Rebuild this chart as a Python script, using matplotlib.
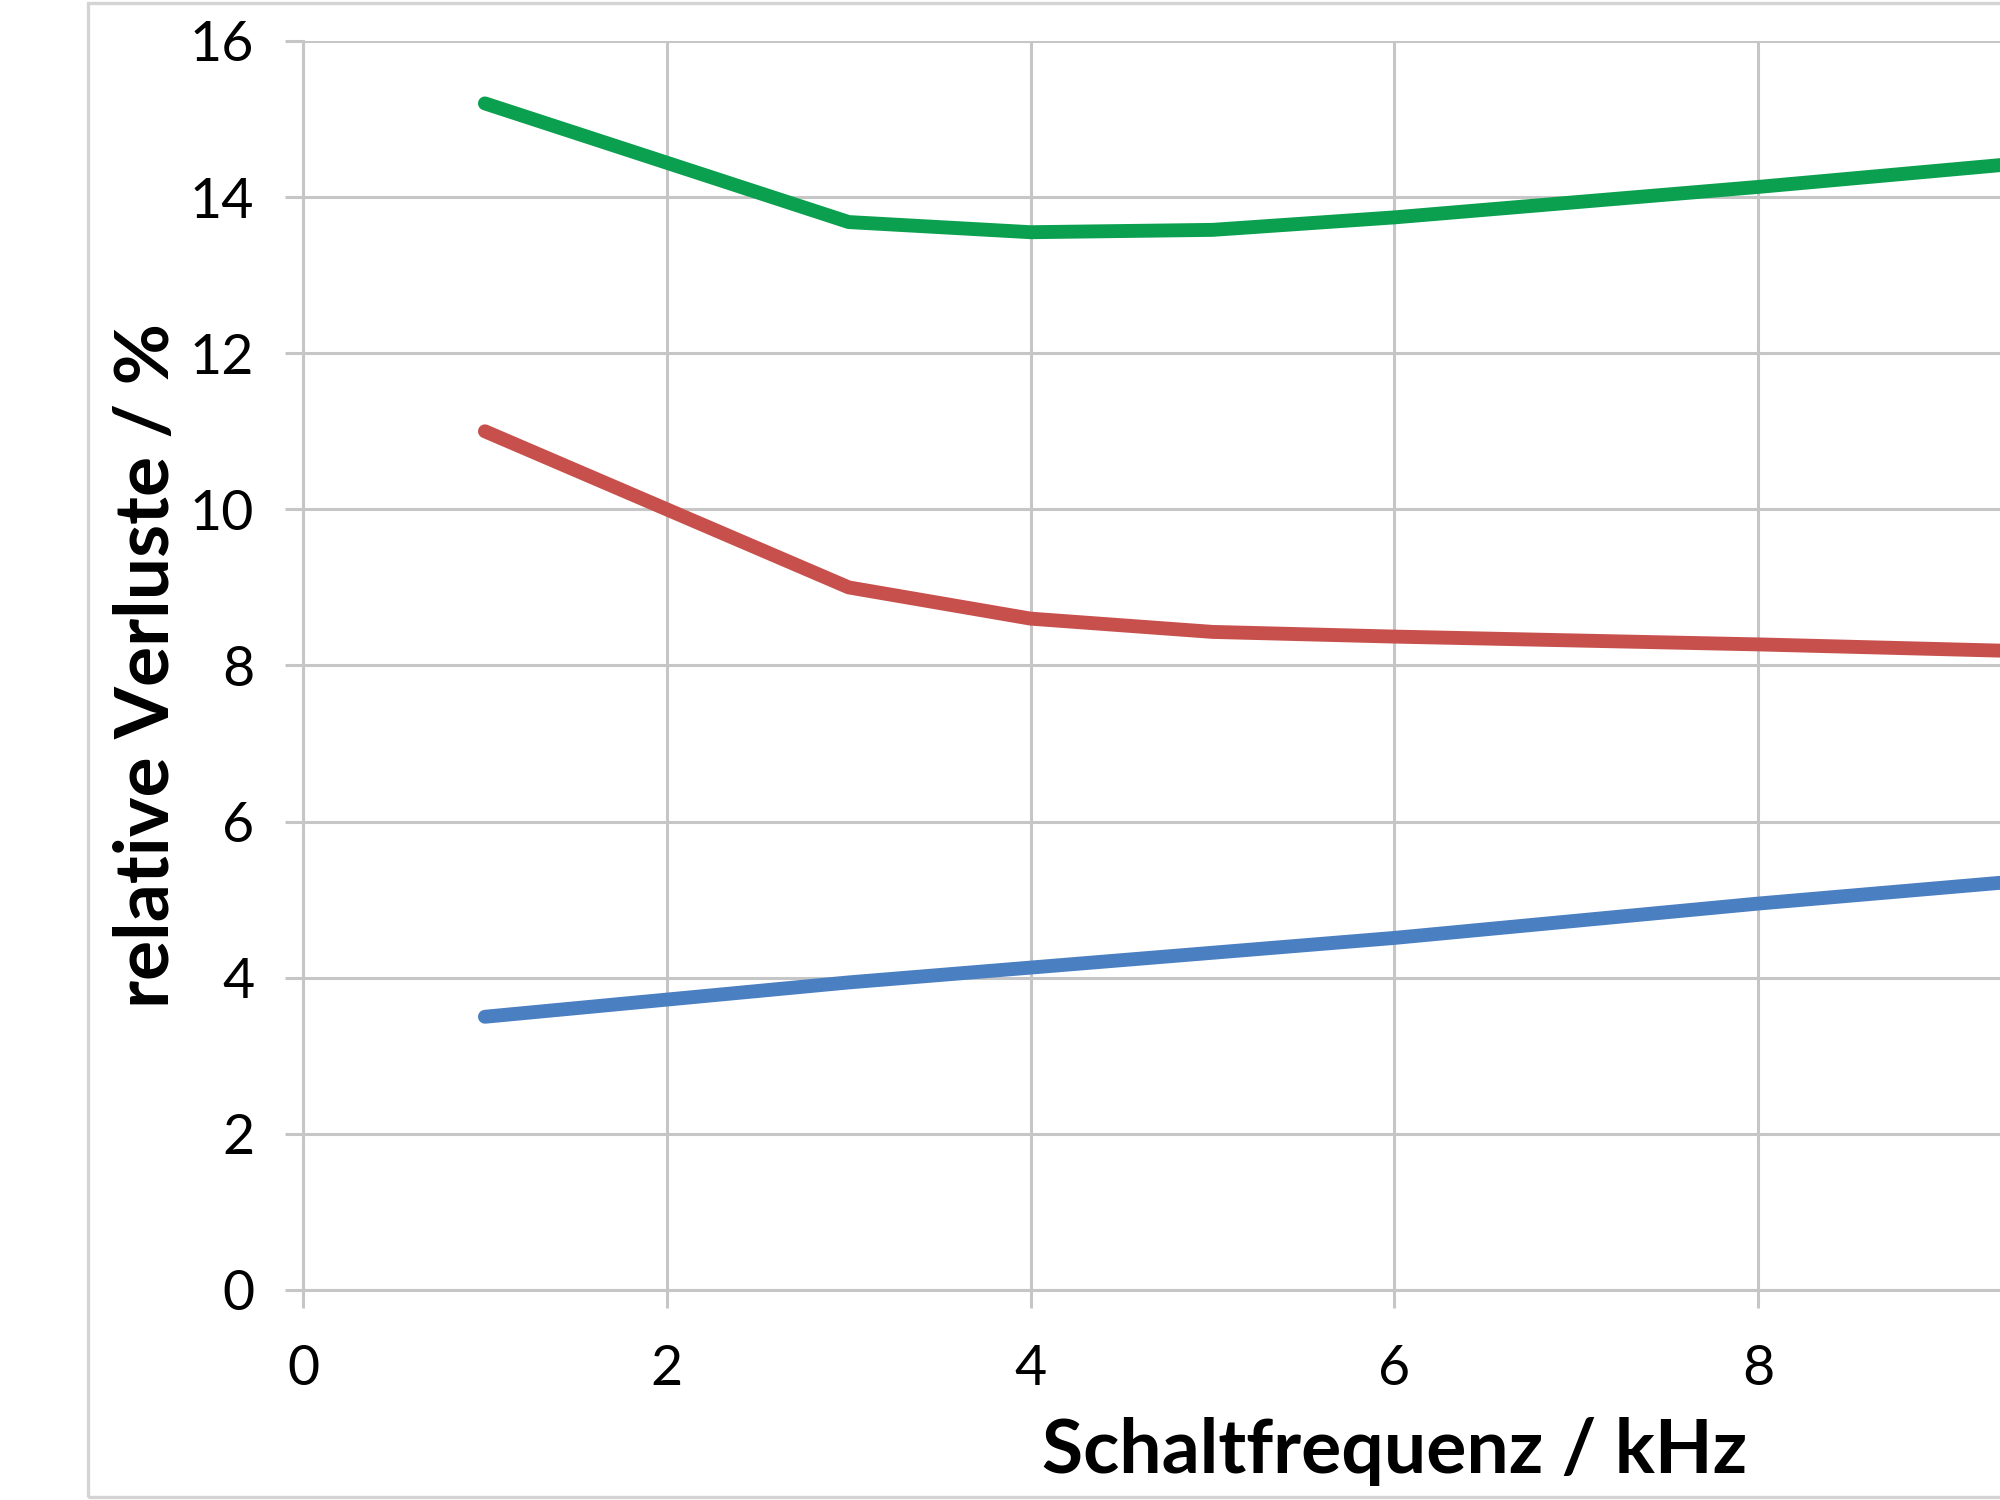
import matplotlib.pyplot as plt
from matplotlib.patches import Rectangle

# switching frequency in kHz
freq_khz = [1, 3, 4, 5, 6, 8, 10]

# relative losses in percent
loss_green = [15.2, 13.68, 13.55, 13.58, 13.74, 14.13, 14.55]
loss_red = [11.0, 9.0, 8.6, 8.43, 8.37, 8.27, 8.15]
loss_blue = [3.5, 3.94, 4.13, 4.32, 4.51, 4.95, 5.35]

x_ticks = [0, 2, 4, 6, 8, 10, 12]
# 10 and 12 sit outside the cropped picture, so their labels stay empty
x_tick_labels = ['0', '2', '4', '6', '8', '', '']
y_ticks = [0, 2, 4, 6, 8, 10, 12, 14, 16]

plt.rcParams['font.family'] = ['Lato', 'DejaVu Sans']

fig = plt.figure(figsize=(10, 7.5), dpi=200)

# outer chart border (cropped on the right side)
fig.patches.append(Rectangle((0.044, 0.002), 1.2, 0.996, transform=fig.transFigure,
                             fill=False, edgecolor='#d4d4d4', linewidth=1.2))

# plot area runs past the right edge of the picture, like the cropped original
ax = fig.add_axes([0.1515, 0.14, 1.0914, 0.8327])

grid_col = '#c6c6c6'
lw = 5.0
ax.plot(freq_khz, loss_green, color='#0aa04f', linewidth=lw, solid_capstyle='round', solid_joinstyle='round', zorder=3)
ax.plot(freq_khz, loss_red, color='#c8504c', linewidth=lw, solid_capstyle='round', solid_joinstyle='round', zorder=3)
ax.plot(freq_khz, loss_blue, color='#4a7fc1', linewidth=lw, solid_capstyle='round', solid_joinstyle='round', zorder=3)

ax.set_xlim(0, 12)
ax.set_ylim(0, 16)
ax.set_xticks(x_ticks)
ax.set_xticklabels(x_tick_labels)
ax.set_yticks(y_ticks)
ax.grid(True, color=grid_col, linewidth=1.1)
ax.set_axisbelow(True)

for side in ['top', 'right']:
    ax.spines[side].set_visible(False)
for side in ['left', 'bottom']:
    ax.spines[side].set_color(grid_col)
    ax.spines[side].set_linewidth(1.1)

ax.tick_params(axis='both', direction='out', length=6.5, width=1.1, color=grid_col,
               labelsize=20, labelcolor='black')
ax.tick_params(axis='y', pad=11)
ax.tick_params(axis='x', pad=13)

ax.set_xlabel('Schaltfrequenz / kHz', fontsize=27, fontweight='bold', labelpad=8)
ax.set_ylabel('relative Verluste / %', fontsize=27, fontweight='bold', labelpad=3)

fig.savefig('out.png', dpi=200)
